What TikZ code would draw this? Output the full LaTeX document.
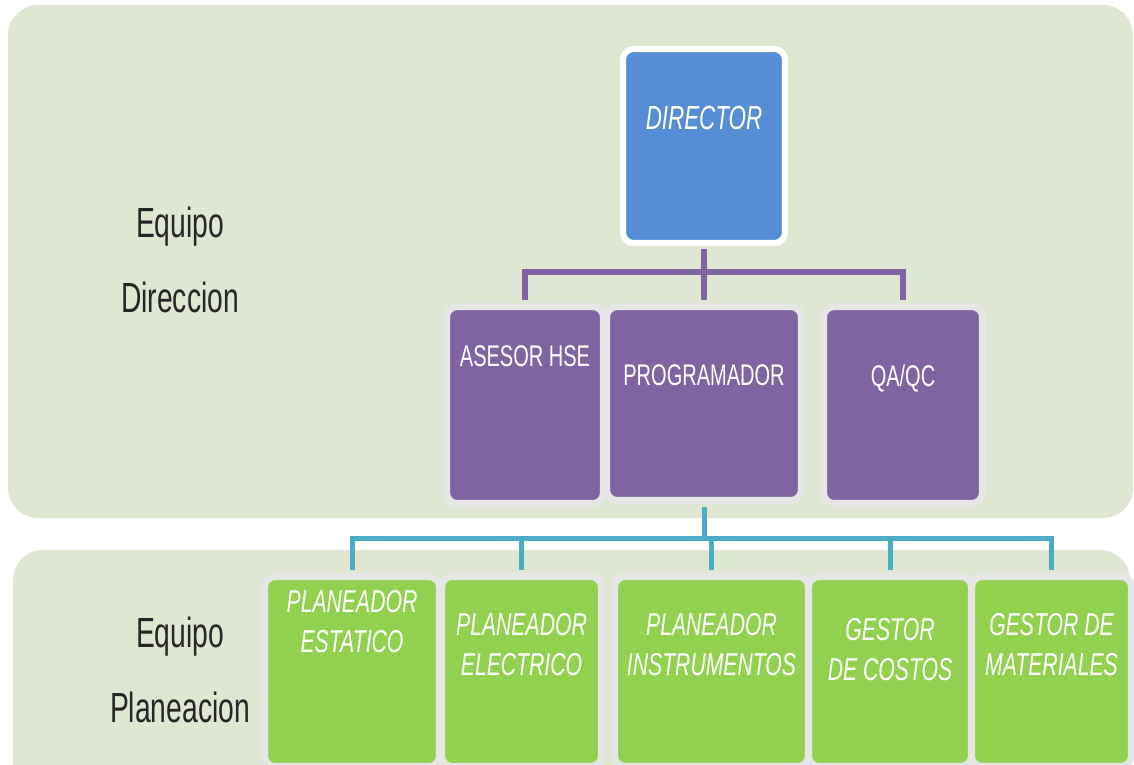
\documentclass[tikz,border=0pt]{standalone}
\usepackage{fontspec}
\setmainfont{Liberation Sans}
\newfontfamily\narrowsf{Liberation Sans}[FakeStretch=0.67]
\definecolor{panelgreen}{HTML}{DFE7D3}
\definecolor{dirblue}{HTML}{558ED5}
\definecolor{staffpurple}{HTML}{8064A2}
\definecolor{planegreen}{HTML}{92D050}
\definecolor{linkcyan}{HTML}{4BACC6}
\definecolor{rimgray}{HTML}{E6E6E6}

\begin{document}
\begin{tikzpicture}[x=0.02cm, y=-0.02cm, font=\narrowsf,
  panel/.style={fill=panelgreen, rounded corners=0.6cm},
  orgbox/.style={rounded corners=6pt, draw=rimgray, line width=0.14cm, inner sep=0pt},
  dirbox/.style={orgbox, draw=white, line width=0.12cm, fill=dirblue, minimum width=3.24cm, minimum height=3.88cm},
  staffbox/.style={orgbox, fill=staffpurple, minimum height=3.94cm},
  planbox/.style={orgbox, fill=planegreen, minimum height=3.8cm},
  dtext/.style={text=white, align=center, font={\narrowsf\itshape\fontsize{19}{23}\selectfont}},
  stext/.style={text=white, align=center, font={\narrowsf\fontsize{17}{21}\selectfont}},
  gtext/.style={text=white, align=center, font={\narrowsf\itshape\fontsize{18}{22.7}\selectfont}},
  teamtext/.style={text=black!85, align=center, font={\narrowsf\fontsize{24}{42.5}\selectfont}},
  plink/.style={draw=staffpurple, line width=0.12cm},
  clink/.style={draw=linkcyan, line width=0.1cm}]
\clip (0,0) rectangle (1134,765);
\fill[white] (0,0) rectangle (1134,765);
\fill[panel] (8,5) rectangle (1133,518);
\fill[panel] (13,550) rectangle (1130,820);

\node[teamtext] (dirteam) at (180,260) {Equipo\\Direccion};
\node[teamtext] (planteam) at (180,670) {Equipo\\Planeacion};

% direccion
\node[dirbox, label={[dtext, anchor=center, yshift=-1.44cm]north:DIRECTOR}] (dir) at (704,146) {};
\node[staffbox, minimum width=3.14cm, label={[stext, anchor=center, yshift=-1.07cm]north:ASESOR HSE}] (hse) at (525,405) {};
\node[staffbox, minimum width=3.9cm, minimum height=3.88cm, label={[stext, anchor=center, yshift=-1.45cm]north:PROGRAMADOR}] (prog) at (704,403.5) {};
\node[staffbox, minimum width=3.18cm, label={[stext, anchor=center, yshift=-1.51cm]north:QA/QC}] (qa) at (903,405) {};

% planeacion
\node[planbox, minimum width=3.5cm, label={[gtext, anchor=center, yshift=-0.97cm]north:{PLANEADOR\\ESTATICO}}] (est) at (352,671.5) {};
\node[planbox, minimum width=3.2cm, label={[gtext, anchor=center, yshift=-1.43cm]north:{PLANEADOR\\ELECTRICO}}] (ele) at (521.5,671.5) {};
\node[planbox, minimum width=3.88cm, label={[gtext, anchor=center, yshift=-1.43cm]north:{PLANEADOR\\INSTRUMENTOS}}] (ins) at (711.5,671.5) {};
\node[planbox, minimum width=3.26cm, label={[gtext, anchor=center, yshift=-1.54cm]north:{GESTOR\\DE COSTOS}}] (cos) at (890,671.5) {};
\node[planbox, minimum width=3.2cm, label={[gtext, anchor=center, yshift=-1.43cm]north:{GESTOR DE\\MATERIALES}}] (mat) at (1051.5,671.5) {};

\coordinate (pbus) at (704,272);
\coordinate (cbus) at (704,538);
\draw[plink, shorten <=0.06cm, shorten >=0.07cm] (dir.south) -- (prog.north);
\draw[plink, shorten <=0.07cm, shorten >=0.07cm] (hse.north) -- (hse.north |- pbus) -- (qa.north |- pbus) -- (qa.north);
\draw[clink, shorten <=0.07cm] (prog.south) -- (prog.south |- cbus);
\draw[clink, shorten <=0.07cm, shorten >=0.07cm] (est.north) -- (est.north |- cbus) -- (mat.north |- cbus) -- (mat.north);
\foreach \n in {ele,ins,cos}
  \draw[clink, shorten >=0.07cm] (\n.north |- cbus) -- (\n.north);
\end{tikzpicture}
\end{document}
